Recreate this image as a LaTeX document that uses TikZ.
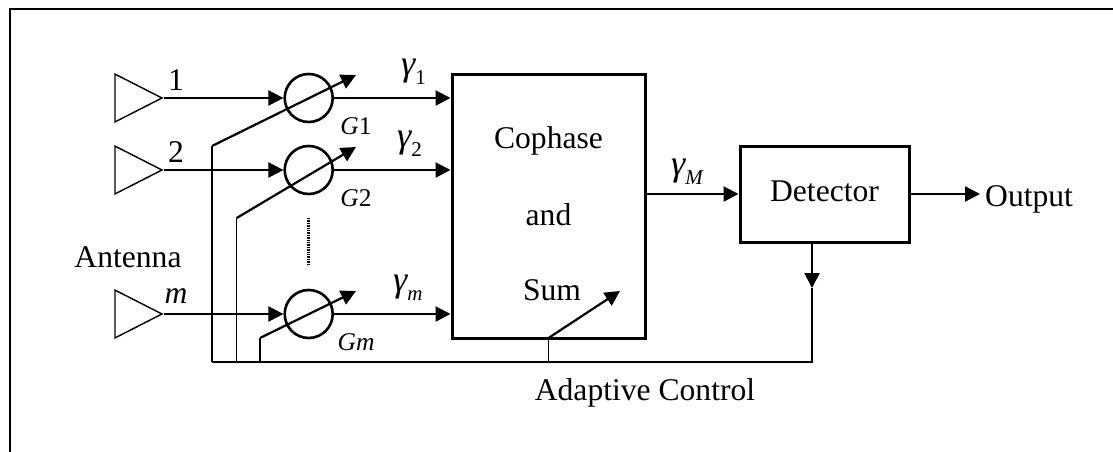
\documentclass[tikz,border=0pt]{standalone}
\usepackage{fontspec}
\setmainfont{Liberation Serif}
\usetikzlibrary{shapes.geometric,positioning,arrows.meta}
\tikzset{antenna/.style={draw,line width=1.4pt,isosceles triangle,isosceles triangle apex angle=54,minimum height=47pt,inner sep=0pt,anchor=apex},
mixer/.style={draw,circle,line width=2.6pt,minimum size=48pt,inner sep=0pt},
mybox/.style={draw,rectangle,line width=3pt,inner sep=0pt,align=center},
sig/.style={line width=2.2pt,-{Triangle[length=15pt,width=15pt]}},
ctrl/.style={line width=1.3pt},
lbl/.style={inner sep=0pt}}
\newcommand{\Gam}[1]{{\fontsize{36}{38}\selectfont\itshape γ}\raisebox{-9pt}{\fontsize{21}{22}\selectfont #1}}
\newcommand{\Gain}[6]{
\node[antenna] (ant-#1) at (163.5,#2) {};
\node[mixer] (gain-#1) at (308.7,#2) {};
\node[lbl,font=\fontsize{25.5}{27}\selectfont] (gain-label-#1) at (356,#2+28) {#4};
\node[lbl] (ant-label-#1) at (176,#2-18) {#3};
\node[lbl,anchor=west] (out-label-#1) at (#6,#2-26) {#5};
\draw[sig] (ant-#1.apex) -- (gain-#1.west);
\draw[sig] (gain-#1.east) -- (gain-#1.east -| sum.west);
}
\begin{document}
\begin{tikzpicture}[x=1pt,y=-1pt,font=\fontsize{31.6}{34}\selectfont]
    \useasboundingbox (0,0) rectangle (1113,452);
    % frame
    \coordinate (frame-a) at (9.5,452);
    \coordinate (frame-b) at (9.5,9);
    \coordinate (frame-c) at (1113,9);
    \draw[line width=2pt] (frame-a) -- (frame-b) -- (frame-c);
    % blocks
    \node[mybox,minimum width=193pt,minimum height=264pt] (sum) at (548.5,206) {};
    \node[lbl] (sum-a) at (548.5,141) {Cophase};
    \node[lbl] (sum-b) at (548.5,215) {and};
    \node[lbl] (sum-c) at (552,290) {Sum};
    \node[mybox,minimum width=169pt,minimum height=96pt] (detector) at (824.5,194) {};
    \node[lbl] (detector-label) at (824.5,191) {Detector};
    \node[lbl,anchor=west] (output) at (985,199) {Output};
    \node[lbl] (antenna) at (128,257) {Antenna};
    \node[lbl] (adaptive) at (645,393) {Adaptive Control};
    % branches
    \Gain{a}{98}{1}{\textit{G}1}{\Gam{1}}{401}
    \Gain{b}{170}{2}{\textit{G}2}{\Gam{2}}{397}
    \Gain{c}{314}{\textit{m}}{\textit{Gm}}{\Gam{\textit{m}}}{393}
    \node[lbl,anchor=west] (gamma-out) at (671,172) {\Gam{\textit{M}}};
    % links
    \draw[sig] (sum.east |- detector.west) -- (detector.west);
    \coordinate (out-end) at (980,194);
    \draw[sig] (detector.east) -- (out-end);
    \coordinate (bus-a) at (212,362);
    \coordinate (bus-b) at (236.7,362);
    \coordinate (bus-c) at (260,362);
    \coordinate (bus-d) at (548.5,362);
    \coordinate (bus-e) at (812,362);
    \coordinate (det-tip) at (812,288);
    \draw[sig] (detector.south -| det-tip) -- (det-tip);
    \draw[ctrl] (det-tip) -- (bus-e) -- (bus-a);
    \foreach \name/\bend/\tip in {a/146/75,b/218/147,c/338/291}{
    \coordinate (knee-\name) at (bus-\name |- 0,\bend);
    \coordinate (tip-\name) at (356,\tip);
    \draw[ctrl] (bus-\name) -- (knee-\name);
    \draw[sig] (knee-\name) -- (tip-\name);
    }
    \coordinate (knee-d) at (548.5,338);
    \coordinate (tip-d) at (620,291);
    \draw[ctrl] (bus-d) -- (knee-d);
    \draw[sig] (knee-d) -- (tip-d);
    % dots between branches
    \coordinate (dots-a) at (308.7,218);
    \coordinate (dots-b) at (308.7,266);
    \draw[line width=3pt,dash pattern=on 1.4pt off 1pt] (dots-a) -- (dots-b);
\end{tikzpicture}
\end{document}
